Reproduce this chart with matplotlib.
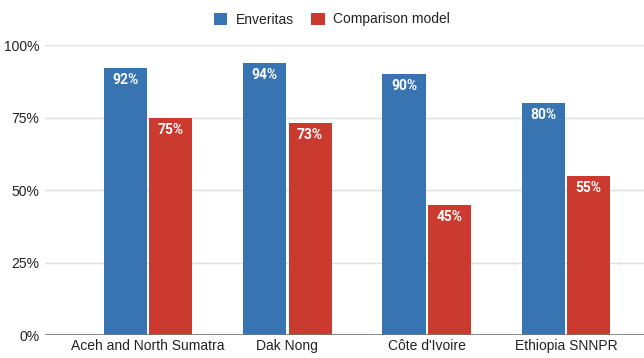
import matplotlib.pyplot as plt
import numpy as np

# Chart data
regions = ['Aceh and North Sumatra', 'Dak Nong', "Côte d'Ivoire", 'Ethiopia SNNPR']
enveritas = [92, 94, 90, 80]
comparison = [75, 73, 45, 55]
yticks = [0, 25, 50, 75, 100]

blue = '#3874b2'
red = '#cb3a2e'

plt.rcParams['font.family'] = ['Liberation Sans', 'DejaVu Sans']

fig = plt.figure(figsize=(6.44, 3.58), dpi=100)
ax = fig.add_axes([0.07, 0.064, 0.93, 0.81])

x = np.arange(len(regions))
w = 0.31
b1 = ax.bar(x - w / 2 - 0.008, enveritas, width=w, color=blue, label='Enveritas', zorder=3)
b2 = ax.bar(x + w / 2 + 0.008, comparison, width=w, color=red, label='Comparison model', zorder=3)

for bars, vals in ((b1, enveritas), (b2, comparison)):
    for bar, v in zip(bars, vals):
        ax.annotate(f'{v}%', (bar.get_x() + bar.get_width() / 2, v),
                    xytext=(0, -12), textcoords='offset pixels',
                    ha='center', va='center', color='white',
                    fontsize=10, fontweight='bold', family=['Roboto', 'DejaVu Sans'], zorder=4)

ax.set_xlim(-0.74, 3.56)
ax.set_ylim(0, 100)
ax.set_yticks(yticks)
ax.set_yticklabels([f'{t}%' for t in yticks])
ax.set_xticks(x)
ax.set_xticklabels(regions)
ax.grid(axis='y', color='#dedede', linewidth=1, zorder=0)
ax.axhline(0, color='#777777', linewidth=1.2, zorder=4)
for s in ax.spines.values():
    s.set_visible(False)
ax.tick_params(axis='both', length=0, labelsize=10, colors='#222222')
ax.tick_params(axis='y', pad=4)
ax.tick_params(axis='x', pad=3)

fig.legend(handles=[b1, b2], loc='upper center', bbox_to_anchor=(0.515, 1.0), ncol=2,
           frameon=False, fontsize=10, handlelength=1.0, handleheight=1.0,
           columnspacing=1.2, handletextpad=0.6, labelcolor='#222222')

fig.savefig('out.png', dpi=100)
